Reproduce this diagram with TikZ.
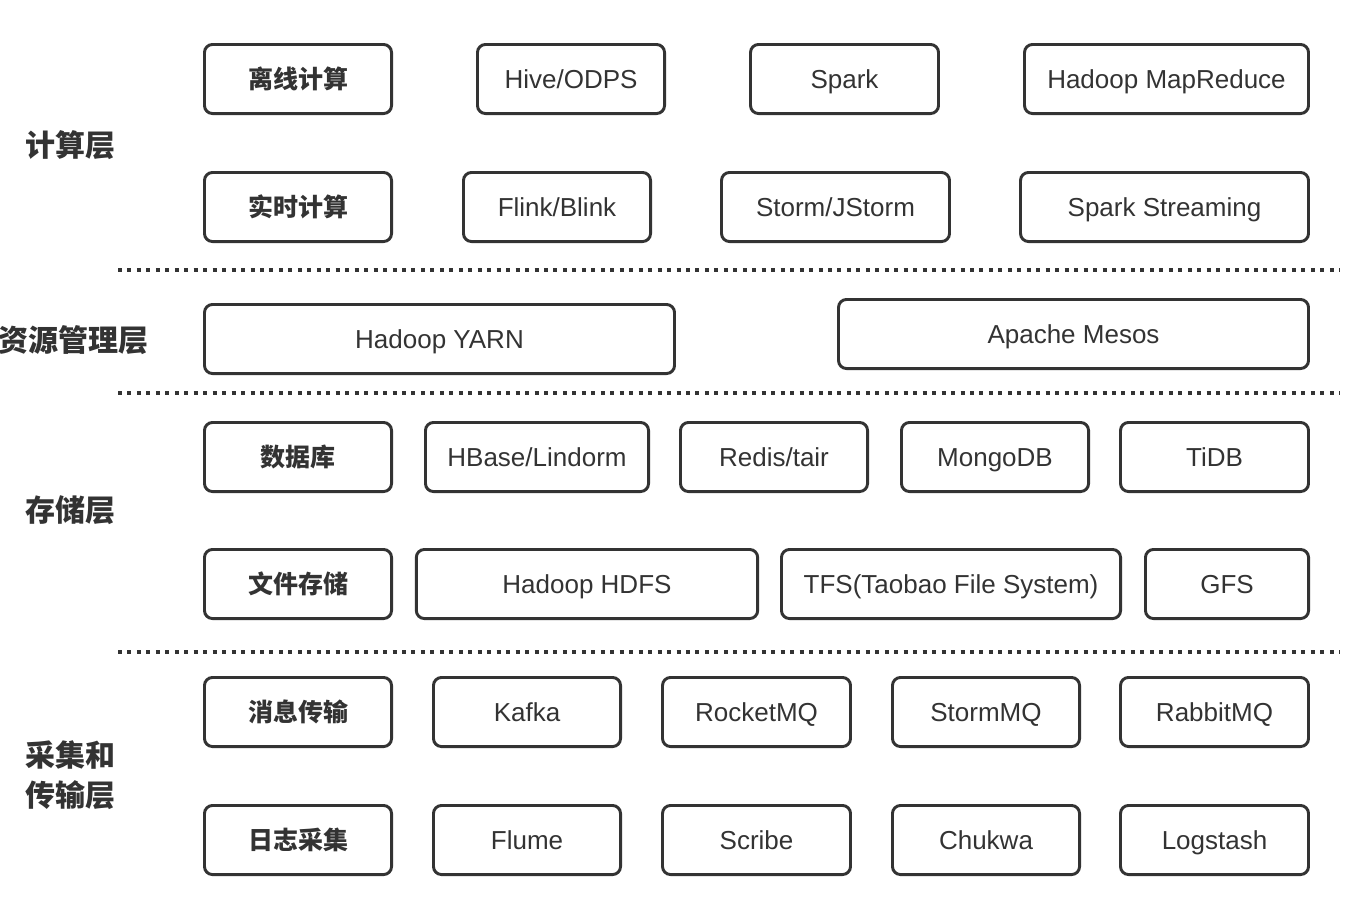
\documentclass[tikz,border=0pt]{standalone}
\usepackage{fontspec}
\setmainfont{Liberation Sans}
\newfontfamily\cjk{Noto Sans CJK SC}
\usetikzlibrary{positioning}
\definecolor{ink}{HTML}{333333}

\begin{document}
\begin{tikzpicture}[
  x=0.75pt, y=-0.75pt,
  box/.style={draw=ink, line width=2.2pt, rounded corners=6pt, minimum height=51.8pt, inner sep=0pt, text=ink, text height=14pt, text depth=0pt, font=\fontsize{19.5}{22}\selectfont},
  cat/.style={box, minimum width=140.3pt, text height=14.2pt, font=\cjk\bfseries\fontsize{18.75}{22}\selectfont},
  w/.style={minimum width=#1},
  layer/.style={anchor=west, align=left, inner sep=0pt, text=ink, font=\cjk\bfseries\fontsize{22.5}{30}\selectfont},
  sep/.style={ink, line width=3pt, dash pattern=on 3pt off 4.1pt}
]
\useasboundingbox (0,0) rectangle (1348,904);

% layer names
\node[layer] (compute) at (25,145) {计算层};
\node[layer] (resource) at (-2,340) {资源管理层};
\node[layer] (storage) at (25,510) {存储层};
\node[layer] (collect) at (25,775) {采集和\\传输层};

% compute layer
\node[cat] (offline) at (298,79) {离线计算};
\node[box, w=140.3pt] (hive) at (571,79) {Hive/ODPS};
\node[box, w=141pt] (spark) at (844.5,79) {Spark};
\node[box, w=213pt] (mapred) at (1166.5,79) {Hadoop MapReduce};
\node[cat] (realtime) at (298,207) {实时计算};
\node[box, w=140.3pt] (flink) at (557,207) {Flink/Blink};
\node[box, w=171pt] (storm) at (835.5,207) {Storm/JStorm};
\node[box, w=216pt] (sstream) at (1164.5,207) {Spark Streaming};

% resource layer
\node[box, w=352.5pt] (yarn) at (439.5,339) {Hadoop YARN};
\node[box, w=352.5pt] (mesos) at (1073.5,334) {Apache Mesos};

% storage layer
\node[cat] (db) at (298,457) {数据库};
\node[box, w=167.3pt] (hbase) at (537,457) {HBase/Lindorm};
\node[box, w=140.3pt] (redis) at (774,457) {Redis/tair};
\node[box, w=140.3pt] (mongo) at (995,457) {MongoDB};
\node[box, w=141pt] (tidb) at (1214.5,457) {TiDB};
\node[cat] (files) at (298,584) {文件存储};
\node[box, w=256pt] (hdfs) at (587,584) {Hadoop HDFS};
\node[box, w=254.3pt] (tfs) at (951,584) {TFS(Taobao File System)};
\node[box, w=122.3pt] (gfs) at (1227,584) {GFS};

% collect and transport layer
\node[cat] (msg) at (298,712) {消息传输};
\node[box, w=140.3pt] (kafka) at (527,712) {Kafka};
\node[box, w=141pt] (rocket) at (756.5,712) {RocketMQ};
\node[box, w=140.3pt] (stormmq) at (986,712) {StormMQ};
\node[box, w=141pt] (rabbit) at (1214.5,712) {RabbitMQ};
\node[cat] (logs) at (298,840) {日志采集};
\node[box, w=140.3pt] (flume) at (527,840) {Flume};
\node[box, w=141pt] (scribe) at (756.5,840) {Scribe};
\node[box, w=140.3pt] (chukwa) at (986,840) {Chukwa};
\node[box, w=141pt] (logstash) at (1214.5,840) {Logstash};

% separators
\coordinate (s1a) at (118,270); \coordinate (s1b) at (1340,270);
\coordinate (s2a) at (118,393); \coordinate (s2b) at (1340,393);
\coordinate (s3a) at (118,652); \coordinate (s3b) at (1340,652);
\draw[sep] (s1a) -- (s1b);
\draw[sep] (s2a) -- (s2b);
\draw[sep] (s3a) -- (s3b);
\end{tikzpicture}
\end{document}
